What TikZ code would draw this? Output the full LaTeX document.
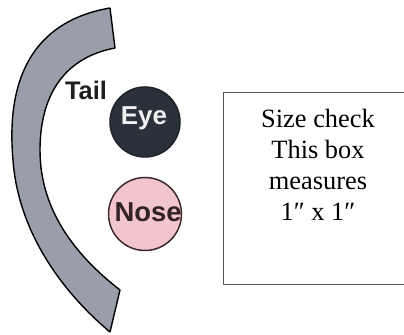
\documentclass[tikz,border=0pt]{standalone}
\usepackage{fontspec}
\setmainfont{Liberation Serif}
\newfontfamily\labelfont{Liberation Sans}
\definecolor{bandcol}{HTML}{9A9EAB}
\definecolor{eyecol}{HTML}{2B313B}
\definecolor{nosecol}{HTML}{F2C4CB}
\definecolor{nosedraw}{HTML}{3C2A2E}
\definecolor{boxdraw}{HTML}{555555}
\begin{document}
\begin{tikzpicture}[>=latex,line join=bevel,
  partlabel/.style={inner sep=0pt,anchor=base,font=\labelfont\bfseries},
  facepart/.style={circle,inner sep=0pt,line width=1.5bp},]
  \pgfsetlinewidth{1bp}
  \useasboundingbox (0bp,0bp) rectangle (404bp,335bp);
%%
  % Shape: Tail band
  \filldraw [fill=bandcol,draw=black,line width=1.4bp]
    (110bp,327bp) .. controls (40bp,315bp) and (5bp,265bp) .. (13bp,175bp)
    .. controls (18bp,105bp) and (60bp,45bp) .. (110bp,3bp)
    -- (120bp,45bp) .. controls (75bp,80bp) and (40bp,125bp) .. (40bp,185bp)
    .. controls (40bp,237bp) and (62bp,277bp) .. (115bp,287bp) -- cycle;
  % Node: Tail
  \node [partlabel,font=\labelfont\bfseries\fontsize{25.5}{30}\selectfont,text=black!88] (tail) at (86bp,235bp) {Tail};
  % Node: Eye
\begin{scope}
  \node [facepart,fill=eyecol,draw=eyecol!70!black,minimum size=70bp] (eye) at (145bp,213bp) {};
  \node [partlabel,font=\labelfont\bfseries\fontsize{26}{30}\selectfont,text=white!94!black] (eyetext) at (144bp,210bp) {Eye};
\end{scope}
  % Node: Nose
\begin{scope}
  \node [facepart,fill=nosecol,draw=nosedraw,minimum size=73bp] (nose) at (145bp,121bp) {};
  \node [partlabel,font=\labelfont\bfseries\fontsize{27.5}{30}\selectfont,text=nosedraw!80!black] (nosetext) at (148bp,113bp) {Nose};
\end{scope}
  % Node: Size check box
\begin{scope}
  \draw [boxdraw,line width=1.3bp] (223.5bp,242.3bp) rectangle (410bp,50.7bp);
  \node [inner sep=0pt,anchor=north,align=center,font=\fontsize{26.5}{31}\selectfont] (sizecheck) at (318bp,226bp)
    {Size check\\This box\\measures\\1″ x 1″};
\end{scope}
%
\end{tikzpicture}
\end{document}
